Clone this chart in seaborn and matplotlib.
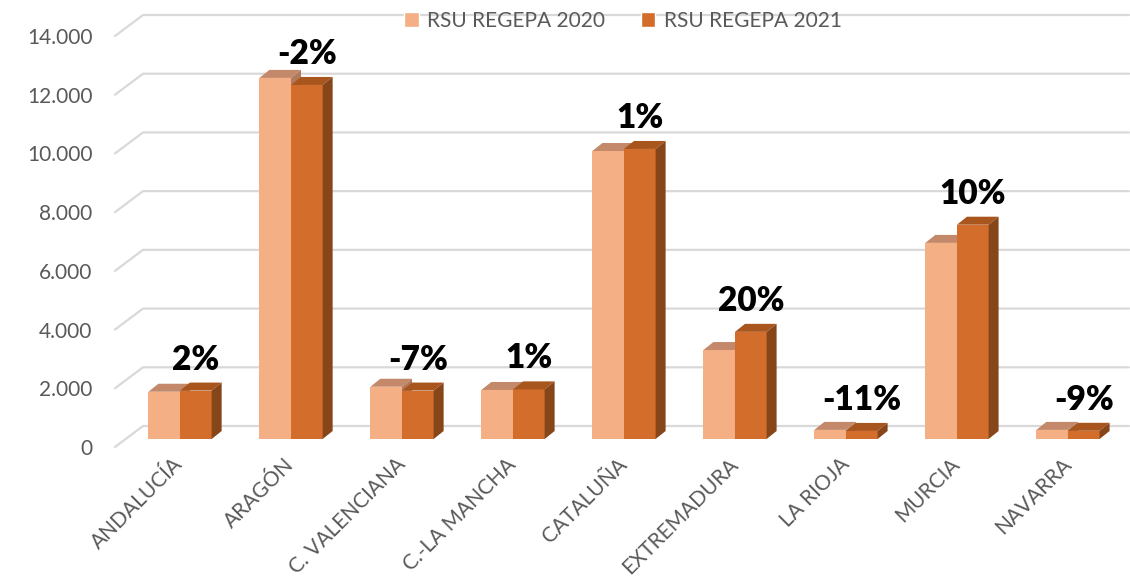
import pandas as pd
import matplotlib
matplotlib.use("Agg")
import matplotlib.pyplot as plt
from matplotlib.lines import Line2D
from matplotlib.patches import Polygon
from matplotlib.transforms import IdentityTransform, ScaledTranslation
import seaborn as sns

# -----------------------------
# Data
# -----------------------------
regiones = ["ANDALUCÍA", "ARAGÓN", "C. VALENCIANA", "C.-LA MANCHA", "CATALUÑA",
            "EXTREMADURA", "LA RIOJA", "MURCIA", "NAVARRA"]
rsu_2020 = [1610, 12300, 1780, 1670, 9810, 3030, 310, 6680, 310]
rsu_2021 = [1650, 12060, 1650, 1690, 9880, 3650, 275, 7300, 280]
variacion = ["2%", "-2%", "-7%", "1%", "1%", "20%", "-11%", "10%", "-9%"]
series = ["RSU REGEPA 2020", "RSU REGEPA 2021"]
y_ticks = [0, 2000, 4000, 6000, 8000, 10000, 12000, 14000]

df = pd.DataFrame({
    "region": regiones * 2,
    "serie": [series[0]] * len(regiones) + [series[1]] * len(regiones),
    "valor": rsu_2020 + rsu_2021,
})

# colours: front, top, side
FRONT = ["#F4B084", "#D36D2B"]
TOP = ["#C3896A", "#A9551E"]
SIDE = ["#B27A5C", "#86461A"]
GRID = "#D9D9D9"
TXT = "#595959"
DX, DY = 10, 8  # depth of the fake 3D boxes, pixels

sns.set_style("white")
plt.rcParams["font.family"] = ["Lato", "DejaVu Sans"]

fig = plt.figure(figsize=(11.3, 5.81), dpi=100)
ax = fig.add_axes([0.1102, 0.2444, 0.884, 0.7074])

sns.barplot(data=df, x="region", y="valor", hue="serie", hue_order=series,
            palette=FRONT, width=0.57, saturation=1, ax=ax, legend=True)
ax.set_xlim(-0.5, len(regiones) - 0.5)
ax.set_ylim(0, 14000)
ax.set_xlabel("")
ax.set_ylabel("")
ax.set_frame_on(False)
ax.grid(False)
ax.yaxis.set_ticks_position("left")
ax.xaxis.set_ticks_position("bottom")
ax.tick_params(length=0)

# -----------------------------
# Perspective gridlines
# -----------------------------
ident = IdentityTransform()
for v in y_ticks:
    yd = ax.transData.transform((0, v))[1]
    fig.add_artist(Line2D([115, 143, 1129], [yd - 8, yd + 13, yd + 13],
                          color=GRID, lw=1.6, transform=ident, zorder=0))

# -----------------------------
# 3D boxes on top of the bars
# -----------------------------
for k, cont in enumerate(ax.containers):
    for p in cont.patches:
        p.set_edgecolor("none")
        p.set_zorder(2 + 2 * k)
        x0, y0 = ax.transData.transform((p.get_x(), 0))
        x1, y1 = ax.transData.transform((p.get_x() + p.get_width(), p.get_height()))
        top = Polygon([(x0, y1), (x1, y1), (x1 + DX, y1 + DY), (x0 + DX, y1 + DY)],
                      closed=True, facecolor=TOP[k], edgecolor="none",
                      transform=ident, clip_on=False, zorder=3 + 2 * k)
        side = Polygon([(x1, y0), (x1 + DX, y0 + DY), (x1 + DX, y1 + DY), (x1, y1)],
                       closed=True, facecolor=SIDE[k], edgecolor="none",
                       transform=ident, clip_on=False, zorder=3 + 2 * k)
        ax.add_artist(top)
        ax.add_artist(side)

# percentage labels above the 2021 bars
for p, txt in zip(ax.containers[1].patches, variacion):
    ax.annotate(txt, xy=(p.get_x() + p.get_width() / 2, p.get_height()),
                xytext=(0, 21), textcoords="offset pixels",
                ha="center", va="baseline", fontsize=24, fontweight="heavy",
                color="black", zorder=10, annotation_clip=False)

# -----------------------------
# Axis labels
# -----------------------------
ax.set_yticks(y_ticks)
ax.set_yticklabels([f"{v:,.0f}".replace(",", ".") for v in y_ticks],
                   fontsize=15, color=TXT)
ax.tick_params(axis="y", pad=23)
shift = ScaledTranslation(0, -0.08, fig.dpi_scale_trans)
for lab in ax.get_yticklabels():
    lab.set_transform(lab.get_transform() + shift)

ax.set_xticks(range(len(regiones)))
ax.set_xticklabels(regiones, rotation=45, ha="right", va="center",
                   rotation_mode="anchor", fontsize=15, color=TXT)
ax.tick_params(axis="x", pad=16)

# -----------------------------
# Legend
# -----------------------------
handles, labels = ax.get_legend_handles_labels()
ax.legend(handles, labels, loc="center", ncol=2, frameon=False,
          bbox_to_anchor=(623 / 1130, 1 - 21 / 581), bbox_transform=fig.transFigure,
          fontsize=15, labelcolor=TXT, handlelength=0.7, handleheight=0.7,
          handletextpad=0.4, columnspacing=1.7)

fig.savefig("out.png", dpi=100)
plt.close(fig)
